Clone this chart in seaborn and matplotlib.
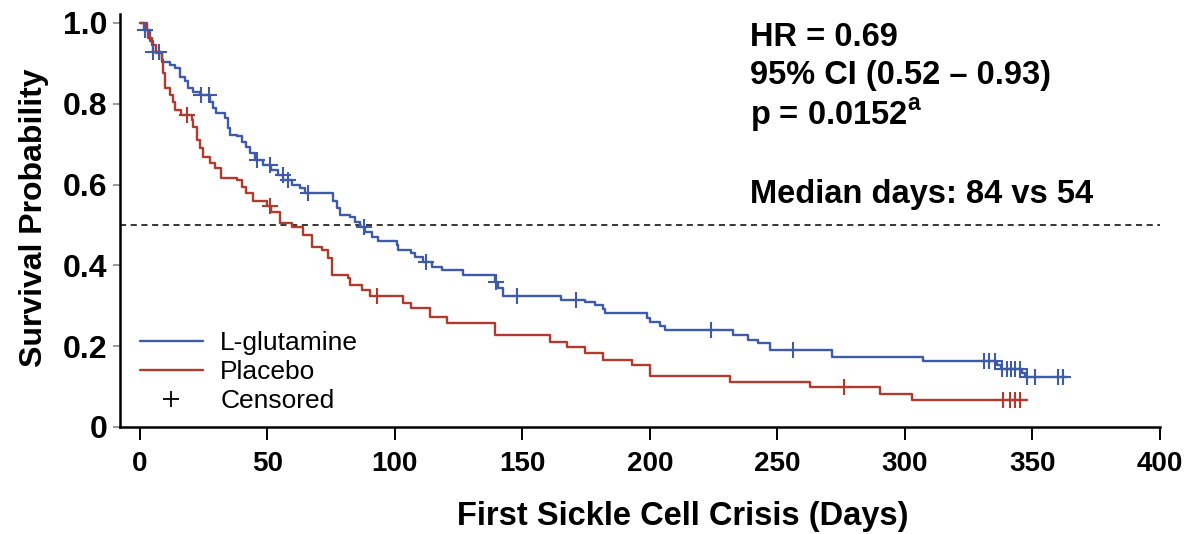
import numpy as np
import matplotlib
matplotlib.use("Agg")
import matplotlib.pyplot as plt
from matplotlib.lines import Line2D
import pandas as pd
import seaborn as sns

# Kaplan-Meier steps: (day, survival after the drop)
glut_days = [0, 1.5, 3.9, 5.2, 8.5, 11.8, 13.7, 15.7, 17.6, 19, 20.9, 23.5, 27.5, 28.7, 30,
             33.3, 34.6, 35.3, 37.9, 39.9, 41.8, 43.1, 45.1, 48.4, 51.6, 54.2, 56.2, 59.5,
             62.7, 64.7, 75.8, 77.1, 78.4, 82.4, 84.3, 86.3, 88.2, 90.9, 93.5, 100.7, 101.4,
             106.5, 107.8, 111.1, 114.4, 118.3, 126.8, 139.2, 140.5, 142.5, 165, 174.5, 178.4,
             181.7, 182.4, 198.7, 200, 203.9, 205.9, 232.7, 238.6, 242.5, 247, 271.2, 307.2,
             336, 337.5, 346, 347, 363.5]
glut_surv = [1.0, 0.983, 0.954, 0.929, 0.904, 0.896, 0.888, 0.867, 0.855, 0.838, 0.83, 0.822,
             0.805, 0.789, 0.776, 0.764, 0.739, 0.723, 0.719, 0.706, 0.694, 0.677, 0.661, 0.649,
             0.636, 0.624, 0.611, 0.599, 0.591, 0.578, 0.558, 0.541, 0.525, 0.519, 0.508, 0.496,
             0.483, 0.471, 0.461, 0.45, 0.438, 0.43, 0.42, 0.409, 0.397, 0.389, 0.376, 0.36,
             0.343, 0.324, 0.314, 0.31, 0.302, 0.291, 0.283, 0.269, 0.261, 0.25, 0.24, 0.228,
             0.215, 0.207, 0.19, 0.174, 0.163, 0.153, 0.144, 0.134, 0.124, 0.124]
glut_cens = [2, 5.2, 7.5, 24, 27, 46, 51, 56, 58, 66, 88, 112, 139.5, 148, 171, 224, 256,
             331, 333, 335.5, 338, 340, 341.5, 343, 345, 348, 351, 360, 362]

plac_days = [0, 2.6, 3.3, 4.6, 6.5, 8.5, 9.2, 9.8, 11.8, 13.1, 13.7, 16.3, 20.3, 20.9, 22.2,
             23.5, 24.8, 27.5, 29.4, 32, 37.9, 39.9, 41.8, 44.5, 49.7, 51.6, 54.9, 59.5, 64,
             67.3, 71.3, 73.8, 75.2, 81.7, 82.4, 86.9, 90.2, 103.3, 106.5, 113.7, 120.3, 139.2,
             160.8, 167.3, 174.5, 181.7, 192.8, 200, 231.4, 262.7, 290.2, 302.6, 348]
plac_surv = [1.0, 0.983, 0.962, 0.946, 0.925, 0.908, 0.876, 0.838, 0.822, 0.805, 0.785, 0.772,
             0.76, 0.743, 0.71, 0.69, 0.669, 0.653, 0.64, 0.616, 0.611, 0.595, 0.578, 0.558,
             0.548, 0.533, 0.504, 0.496, 0.475, 0.446, 0.438, 0.418, 0.376, 0.368, 0.351, 0.339,
             0.323, 0.306, 0.294, 0.273, 0.257, 0.228, 0.211, 0.199, 0.182, 0.166, 0.153, 0.126,
             0.112, 0.1, 0.081, 0.067, 0.067]
plac_cens = [18.3, 51, 93, 276, 338.5, 341, 343, 345]

groups = ["L-glutamine", "Placebo"]
colors = ["#3f5aa8", "#b03a2e"]

x_ticks = [0, 50, 100, 150, 200, 250, 300, 350, 400]
y_ticks = [0, 0.2, 0.4, 0.6, 0.8, 1.0]
y_labels = ["0", "0.2", "0.4", "0.6", "0.8", "1.0"]

stats_lines = ["HR = 0.69", "95% CI (0.52 \u2013 0.93)", "p = 0.0152$^{\\mathregular{a}}$"]
median_text = "Median days: 84 vs 54"


def surv_at(days, surv, t):
    i = np.searchsorted(days, t, side="right") - 1
    return np.array(surv)[i]


sns.set_style("ticks")
plt.rcParams["font.family"] = ["Liberation Sans", "DejaVu Sans"]
plt.rcParams["mathtext.fontset"] = "custom"
plt.rcParams["mathtext.rm"] = "Liberation Sans"
for k in ["text.color", "axes.labelcolor", "xtick.color", "ytick.color"]:
    plt.rcParams[k] = "black"

curves = pd.concat([
    pd.DataFrame({"day": glut_days, "surv": glut_surv, "group": groups[0]}),
    pd.DataFrame({"day": plac_days, "surv": plac_surv, "group": groups[1]}),
])
cens = pd.concat([
    pd.DataFrame({"day": glut_cens, "surv": surv_at(glut_days, glut_surv, glut_cens), "group": groups[0]}),
    pd.DataFrame({"day": plac_cens, "surv": surv_at(plac_days, plac_surv, plac_cens), "group": groups[1]}),
])

fig = plt.figure(figsize=(11.94, 5.34), dpi=100)
ax = fig.add_axes([0.1005, 0.2004, 0.871, 0.7734])

ax.axhline(0.5, color="black", ls=(0, (4, 3)), lw=1.1, zorder=1)

for g, c in zip(groups, colors):
    sub = curves[curves.group == g]
    sns.lineplot(x="day", y="surv", data=sub, ax=ax, color=c, lw=1.7,
                 drawstyle="steps-post", estimator=None, legend=False, zorder=3)
    sc = cens[cens.group == g]
    sns.scatterplot(x="day", y="surv", data=sc, ax=ax, color=c, marker="+",
                    s=120, linewidth=1.5, legend=False, zorder=4)

ax.set_xlim(-7.8, 400)
ax.set_ylim(0, 1.022)
ax.set_xticks(x_ticks)
ax.set_yticks(y_ticks)
ax.set_yticklabels(y_labels)
for lab in ax.get_yticklabels():
    lab.set_fontsize(23)
    lab.set_fontweight("bold")
for lab in ax.get_xticklabels():
    lab.set_fontsize(20)
    lab.set_fontweight("bold")
ax.tick_params(axis="x", length=9, width=1.4, color="black", pad=8)
ax.tick_params(axis="y", length=5, width=1.2, color="#888888", pad=4)

sns.despine(ax=ax)
for s in ["left", "bottom"]:
    ax.spines[s].set_linewidth(1.8)
    ax.spines[s].set_color("black")

ax.set_xlabel("First Sickle Cell Crisis (Days)", fontsize=23.5, fontweight="bold")
ax.xaxis.set_label_coords(0.541, -0.18)
ax.set_ylabel("Survival Probability", fontsize=23, fontweight="bold")
ax.yaxis.set_label_coords(-0.068, 0.506)

for i, t in enumerate(stats_lines):
    ax.text(0.606, 0.944 - i * 0.094, t, transform=ax.transAxes, fontsize=23.5,
            fontweight="bold", va="center", ha="left")
ax.text(0.606, 0.564, median_text, transform=ax.transAxes, fontsize=23.5,
        fontweight="bold", va="center", ha="left")

handles = [Line2D([], [], color=colors[0], lw=1.7),
           Line2D([], [], color=colors[1], lw=1.7),
           Line2D([], [], color="black", marker="+", ls="none", ms=11, mew=1.3)]
ax.legend(handles, groups + ["Censored"], loc="upper left", bbox_to_anchor=(0.019, 0.233),
          frameon=False, fontsize=19, handlelength=2.4, handletextpad=0.65,
          labelspacing=0.2, borderpad=0, borderaxespad=0)

fig.savefig("out.png", dpi=100)
